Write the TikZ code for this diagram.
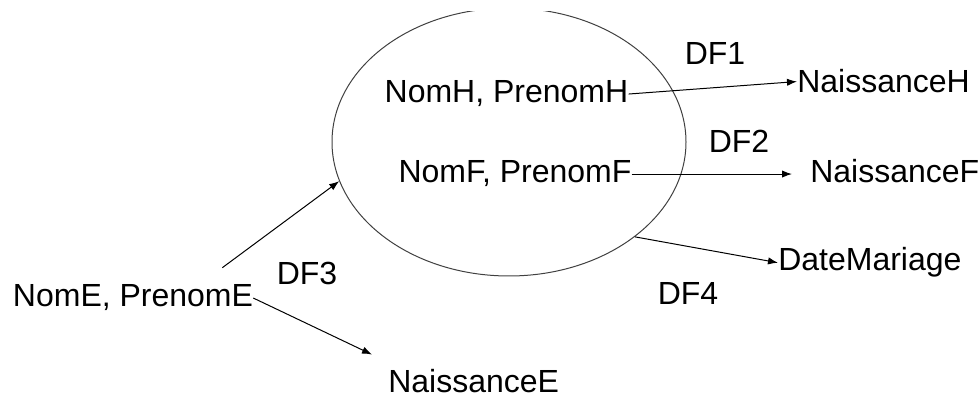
\documentclass[tikz,border=0pt]{standalone}
\usepackage{fontspec}
\setmainfont{Liberation Sans}
\usetikzlibrary{shapes.geometric,arrows.meta}
\begin{document}
\begin{tikzpicture}[x=0.75pt,y=-0.75pt,
  txt/.style={inner sep=0pt,font=\fontsize{24}{28}\selectfont},
  df/.style={->,line width=0.75pt,>={Latex[length=7.5pt,width=5.5pt]}}]
\useasboundingbox (0,0) rectangle (979,398);
\begin{scope}
\clip (0,12) rectangle (979,398);
\node[draw=black!75,line width=0.75pt,ellipse,inner sep=0pt,minimum width=265.5pt,minimum height=201pt] (ent) at (509,142) {};
\end{scope}
\node[txt,anchor=base] (nomh) at (506.5,103) {NomH, PrenomH};
\node[txt,anchor=base] (nomf) at (515,183) {NomF, PrenomF};
\node[txt,anchor=base] (nome) at (133,307) {NomE, PrenomE};
\node[txt,anchor=base west] (naish) at (797,93) {NaissanceH};
\node[txt,anchor=base west] (naisf) at (810,183) {NaissanceF};
\node[txt,anchor=base west] (datem) at (778,271) {DateMariage};
\node[txt,anchor=base west] (naise) at (388,393) {NaissanceE};
\node[txt,anchor=base] (df1) at (715,65) {DF1};
\node[txt,anchor=base] (df2) at (739,153) {DF2};
\node[txt,anchor=base] (df3) at (307,285) {DF3};
\node[txt,anchor=base] (df4) at (688,305) {DF4};
\draw[df] (nomh.east) -- (naish.west);
\draw[df,shorten >=13.5pt] (nomf.east) -- (nomf.east -| naisf.west);
\draw[df] (ent.-37) -- (datem.west);
\draw[df] ([shift={(-31,-17)}]nome.north east) -- (ent.193);
\draw[df] (nome.east) -- ([shift={(-16,-15)}]naise.north west);
\end{tikzpicture}
\end{document}
